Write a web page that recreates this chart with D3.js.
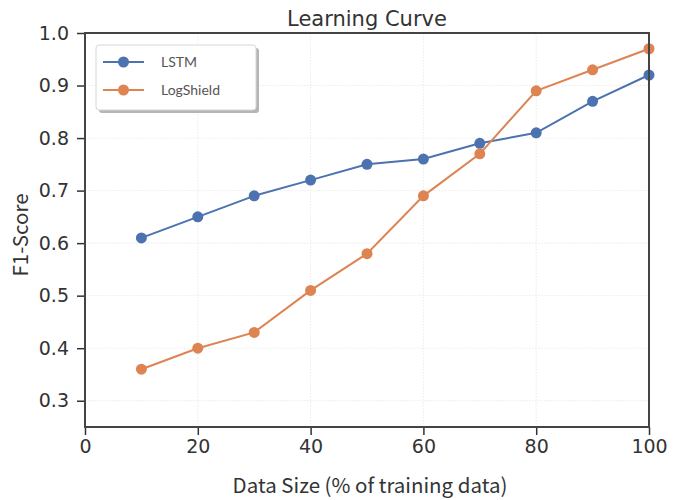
<!DOCTYPE html>
<html>
<head>
<meta charset="utf-8">
<script src="https://cdn.jsdelivr.net/npm/d3@7"></script>
<style>
  html, body { margin: 0; padding: 0; background: #fff; }
  svg { display: block; }
</style>
</head>
<body>
<svg id="chart" width="683" height="500"></svg>
<script>
// Learning-curve data: F1 score vs. share of training data used
const dataSizes = [10, 20, 30, 40, 50, 60, 70, 80, 90, 100];
const lstmScores = [0.61, 0.65, 0.69, 0.72, 0.75, 0.76, 0.79, 0.81, 0.87, 0.92];
const logShieldScores = [0.36, 0.40, 0.43, 0.51, 0.58, 0.69, 0.77, 0.89, 0.93, 0.97];
const seriesNames = ["LSTM", "LogShield"];
const seriesColors = ["#4c72b0", "#dd8452"];
const xTicks = [0, 20, 40, 60, 80, 100];
const yTicks = [0.3, 0.4, 0.5, 0.6, 0.7, 0.8, 0.9, 1.0];

const svg = d3.select("#chart");
const margin = { left: 85, right: 34, top: 33, bottom: 73 };
const W = 683, H = 500;
const innerW = W - margin.left - margin.right;
const innerH = H - margin.top - margin.bottom;

const x = d3.scaleLinear().domain([0, 100]).range([margin.left, margin.left + innerW]);
const y = d3.scaleLinear().domain([0.25, 1.0]).range([margin.top + innerH, margin.top]);

const labelFont = "'Noto Sans CJK KR', 'Noto Sans', sans-serif";
const tickFont = "'DejaVu Sans', sans-serif";

// Grid
const grid = svg.append("g").attr("stroke", "#e6e6e6").attr("stroke-width", 0.8).attr("stroke-dasharray", "1.5,1.5");
grid.selectAll("line.gx").data(xTicks).join("line")
  .attr("x1", d => x(d)).attr("x2", d => x(d))
  .attr("y1", margin.top).attr("y2", margin.top + innerH);
grid.selectAll("line.gy").data(yTicks).join("line")
  .attr("x1", margin.left).attr("x2", margin.left + innerW)
  .attr("y1", d => y(d)).attr("y2", d => y(d));

// Axes
const xAxis = svg.append("g")
  .attr("transform", `translate(0,${margin.top + innerH})`)
  .call(d3.axisBottom(x).tickValues(xTicks).tickSize(8).tickPadding(5).tickFormat(d3.format("d")));
const yAxis = svg.append("g")
  .attr("transform", `translate(${margin.left},0)`)
  .call(d3.axisLeft(y).tickValues(yTicks).tickSize(8).tickPadding(8).tickFormat(d3.format(".1f")));
[xAxis, yAxis].forEach(a => {
  a.select(".domain").remove();
  a.selectAll(".tick line").attr("stroke", "#333").attr("stroke-width", 1.5);
  a.selectAll(".tick text").attr("fill", "#333").style("font-family", tickFont).style("font-size", "19px");
});

// Series lines and markers
const series = [lstmScores, logShieldScores];
const line = d3.line().x((d, i) => x(dataSizes[i])).y(d => y(d));
series.forEach((vals, s) => {
  svg.append("path").datum(vals)
    .attr("fill", "none").attr("stroke", seriesColors[s]).attr("stroke-width", 2)
    .attr("d", line);
  svg.append("g").selectAll("circle").data(vals).join("circle")
    .attr("cx", (d, i) => x(dataSizes[i])).attr("cy", d => y(d))
    .attr("r", 5.5).attr("fill", seriesColors[s]);
});

// Frame
svg.append("rect")
  .attr("x", margin.left).attr("y", margin.top)
  .attr("width", innerW).attr("height", innerH)
  .attr("fill", "none").attr("stroke", "#444").attr("stroke-width", 2);

// Title and axis labels
svg.append("text").attr("x", margin.left + innerW / 2).attr("y", 26)
  .attr("text-anchor", "middle").attr("fill", "#333")
  .style("font-family", tickFont).style("font-size", "21px").text("Learning Curve");
svg.append("text").attr("x", margin.left + innerW / 2 + 3).attr("y", 493)
  .attr("text-anchor", "middle").attr("fill", "#333")
  .style("font-family", labelFont).style("font-size", "20.5px").text("Data Size (% of training data)");
svg.append("text").attr("transform", `translate(28,${margin.top + 202}) rotate(-90)`)
  .attr("text-anchor", "middle").attr("fill", "#333")
  .style("font-family", labelFont).style("font-size", "20.5px").text("F1-Score");

// Legend with drop shadow
const lg = svg.append("g").attr("transform", "translate(96,45)");
lg.append("rect").attr("x", 3).attr("y", 3).attr("width", 160).attr("height", 65).attr("rx", 3)
  .attr("fill", "#b5b5b5");
lg.append("rect").attr("x", 0).attr("y", 0).attr("width", 160).attr("height", 65).attr("rx", 3)
  .attr("fill", "#fff").attr("stroke", "#d6d6d6").attr("stroke-width", 1);
seriesNames.forEach((name, i) => {
  const yy = 17 + i * 28;
  lg.append("line").attr("x1", 7).attr("x2", 48).attr("y1", yy).attr("y2", yy)
    .attr("stroke", seriesColors[i]).attr("stroke-width", 2);
  lg.append("circle").attr("cx", 27.5).attr("cy", yy).attr("r", 5.5).attr("fill", seriesColors[i]);
  lg.append("text").attr("x", 65).attr("y", yy + 5).attr("fill", "#555")
    .style("font-family", "Lato, sans-serif").style("font-size", "14px").text(name);
});
</script>
</body>
</html>
